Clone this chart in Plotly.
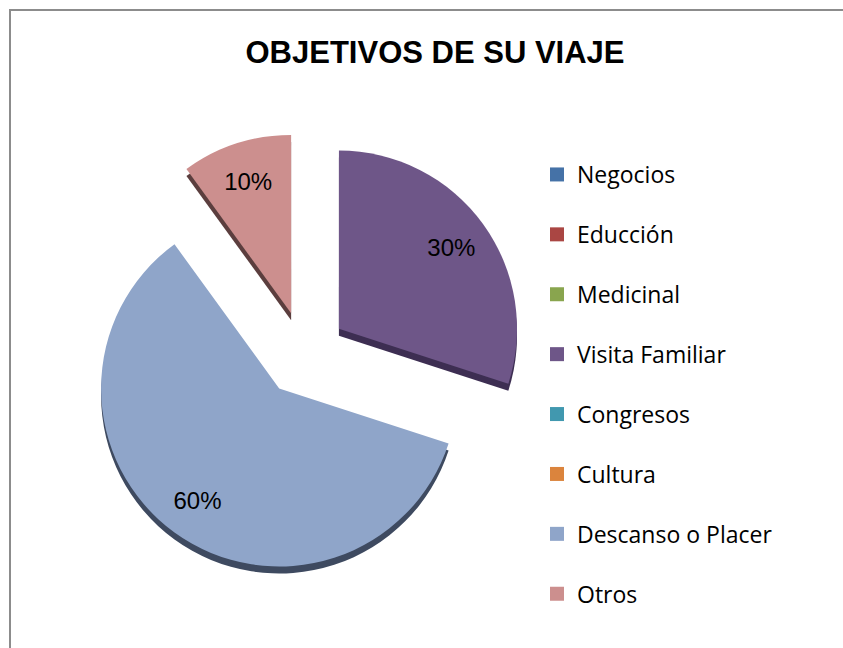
import plotly.graph_objects as go

# ---- data ----
categories = ["Negocios", "Educción", "Medicinal", "Visita Familiar",
              "Congresos", "Cultura", "Descanso o Placer", "Otros"]
values = [0, 0, 0, 30, 0, 0, 60, 10]
colors = ["#4572A7", "#AA4643", "#89A54E", "#6E5688",
          "#4198AF", "#DB843D", "#8FA5C9", "#CC8F8E"]
side_colors = ["#2B4668", "#6A2B2A", "#55672F", "#3D2E52",
               "#275E6C", "#8A5226", "#3E4A60", "#5B3E3E"]
title_text = "OBJETIVOS DE SU VIAJE"

W, H = 843, 648
dom_x = [0.099, 0.623]
dom_y = [0.113, 0.795]
depth = 7 / H
common = dict(labels=categories, values=values, sort=False, direction="clockwise",
              rotation=0, pull=0.24, showlegend=False)

fig = go.Figure()

# depth (side face) of the 3D pie
fig.add_trace(go.Pie(
    **common, marker=dict(colors=side_colors, line=dict(width=0)),
    textinfo="none", hoverinfo="skip",
    domain=dict(x=dom_x, y=[dom_y[0] - depth, dom_y[1] - depth]),
))

# top face
fig.add_trace(go.Pie(
    **common, marker=dict(colors=colors, line=dict(width=0)),
    textinfo="none", domain=dict(x=dom_x, y=dom_y),
))

# percentage labels (transparent ring so the labels sit near the outer edge)
fig.add_trace(go.Pie(
    **common, hole=0.56,
    marker=dict(colors=["rgba(0,0,0,0)"] * len(categories), line=dict(width=0)),
    textinfo="percent", textposition="inside", insidetextorientation="horizontal",
    textfont=dict(family="Liberation Sans, Arial", size=24, color="#000000"),
    hoverinfo="skip", domain=dict(x=dom_x, y=dom_y),
))

# legend entries
for i, (cat, col) in enumerate(zip(categories, colors)):
    fig.add_trace(go.Scatter(
        x=[None], y=[None], mode="markers", name=cat,
        marker=dict(symbol="square", size=14, color=col),
        legendgroup=f"g{i}", showlegend=True,
    ))

fig.update_layout(
    width=W, height=H,
    margin=dict(l=0, r=0, t=0, b=0),
    paper_bgcolor="white", plot_bgcolor="white",
    title=dict(text=f"<b>{title_text}</b>", x=0.516, xanchor="center",
               y=1 - 52 / H, yanchor="middle",
               font=dict(family="Liberation Sans, Arial", size=31, color="#000000")),
    xaxis=dict(visible=False), yaxis=dict(visible=False),
    legend=dict(x=537 / W, xanchor="left", y=1 - 153 / H, yanchor="top",
                font=dict(family="Open Sans", size=23, color="#000000"),
                tracegroupgap=27, traceorder="grouped",
                bgcolor="rgba(0,0,0,0)"),
    shapes=[dict(type="rect", xref="paper", yref="paper",
                 x0=10 / W, x1=1.05, y0=-0.05, y1=1 - 10 / H,
                 line=dict(color="#8C8C8C", width=2))],
)

fig.write_html("out.html", config={"displayModeBar": False},
               post_script="document.body.style.margin='0';")
